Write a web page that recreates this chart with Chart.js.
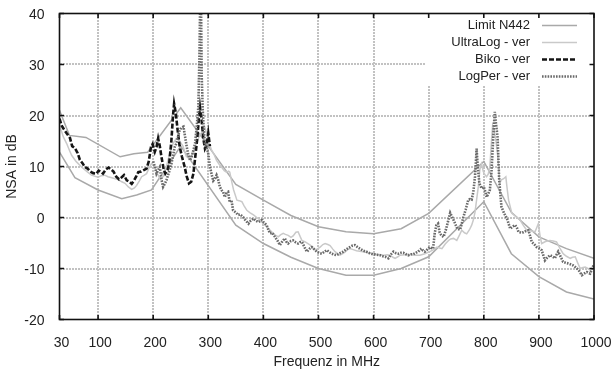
<!DOCTYPE html>
<html>
<head>
<meta charset="utf-8">
<script src="https://cdn.jsdelivr.net/npm/chart.js@4.4.0/dist/chart.umd.min.js"></script>
<style>
  html, body { margin: 0; padding: 0; background: #fff; }
  #wrap { width: 613px; height: 369px; }
</style>
</head>
<body>
<div id="wrap"><canvas id="c-nsa" width="613" height="369"></canvas></div>
<script>
// x ticks (MHz) and y ticks (dB)
const xTicks = [30, 100, 200, 300, 400, 500, 600, 700, 800, 900, 1000];
const yTicks = [-20, -10, 0, 10, 20, 30, 40];

// Limit N442 (upper and lower bound)
const limitHiF = [30, 48, 78, 140, 165, 190, 250, 350, 400, 450, 500, 550, 600, 650, 700, 800, 850, 900, 950, 1000];
const limitHi  = [21.0, 16.1, 15.7, 11.9, 12.5, 12.8, 21.5, 6.5, 3.4, 0.4, -1.8, -2.8, -3.2, -2.2, 0.8, 11.0, 1.0, -3.8, -6.1, -8.0];
const limitLoF = [30, 58, 100, 143, 170, 197, 250, 350, 400, 450, 500, 550, 600, 650, 700, 800, 850, 900, 950, 1000];
const limitLo  = [12.8, 7.8, 5.4, 3.7, 4.4, 5.4, 14.0, -1.5, -5.1, -7.8, -10.0, -11.3, -11.3, -10.0, -7.7, 3.1, -7.1, -11.6, -14.6, -16.0];

// UltraLog - ver
const ultraF = [30, 34, 37, 43, 48, 52, 60, 70, 80, 88, 100, 106, 112, 118, 125, 131, 137, 143, 149, 155, 161, 166, 170, 175, 179, 184, 188, 193, 197,
  203, 208, 213, 218, 224, 230, 236, 242, 248, 254, 260, 266, 272, 278, 284, 290, 294, 297, 301, 306, 310, 315, 320, 324, 329, 333, 337, 339, 343, 346,
  352, 356, 361, 365, 370, 376, 382, 388, 394, 400, 406, 415, 421, 427, 431, 436, 440, 445, 450, 454, 459, 463, 467, 470, 476, 485, 490, 494, 499,
  503, 508, 512, 517, 521, 526, 530, 535, 539, 544, 548, 553, 557, 563, 569, 575, 581, 590, 600, 609, 618, 625, 630, 635, 639, 644, 648, 657, 666,
  675, 684, 693, 702, 709, 715, 720, 724, 730, 736, 740, 745, 751, 756, 760, 765, 769, 774, 778, 781, 784, 787, 790, 793, 796, 799, 802, 805, 808,
  811, 814, 816, 819, 822, 825, 829, 832, 836, 840, 842, 845, 851, 858, 866, 872, 878, 885, 893, 896, 899, 902, 905, 912, 920, 926, 932, 938, 944,
  950, 957, 961, 966, 970, 975, 980, 984, 989, 993, 999];
const ultraV = [18.0, 16.8, 15.8, 14.5, 13.2, 12.2, 11.0, 9.9, 9.0, 8.3, 7.9, 8.2, 8.3, 8.0, 7.8, 7.6, 7.4, 7.0, 6.7, 6.0, 5.5, 5.8, 6.3, 7.2, 8.0, 8.3, 8.6, 9.8, 10.6,
  10.0, 8.5, 7.5, 8.0, 10.0, 12.5, 14.5, 15.5, 15.0, 14.0, 12.0, 11.5, 12.5, 14.5, 16.0, 17.0, 17.6, 16.5, 14.8, 13.2, 12.5, 11.2, 10.4, 9.9, 9.2, 8.9, 9.1, 8.9, 6.8, 5.4,
  3.4, 3.3, 3.1, 2.3, 1.4, 0.9, 0.5, 0.0, -0.5, -1.2, -1.8, -2.8, -3.4, -3.8, -3.4, -3.1, -3.3, -3.5, -3.9, -3.6, -2.9, -2.8, -3.8, -4.5, -4.8, -5.4, -6.0, -6.4, -6.1,
  -5.8, -5.3, -5.1, -5.3, -5.5, -6.2, -6.7, -7.1, -7.4, -7.1, -6.8, -6.3, -6.1, -6.3, -6.5, -6.6, -6.7, -6.9, -7.1, -7.3, -7.4, -7.3, -7.4, -7.8, -8.0, -7.7, -7.4, -7.3, -7.3,
  -7.4, -7.4, -7.1, -6.7, -6.3, -5.8, -6.0, -6.1, -5.2, -4.5, -4.2, -4.1, -4.5, -3.4, -2.5, -3.0, -3.2, -2.4, -1.5, -0.5, 1.0, 3.5, 6.0, 9.5, 10.5, 9.0, 8.4, 8.0, 8.5,
  10.0, 15.0, 18.0, 17.0, 15.0, 12.5, 6.7, 7.4, 7.6, 8.0, 6.0, 3.4, 0.8, 0.2, -0.5, -1.6, -2.5, -2.6, -2.8, -2.0, -1.2, -3.5, -5.1, -4.7, -4.5, -4.6, -4.8, -6.0, -7.1,
  -7.6, -8.0, -7.8, -7.7, -8.8, -10.0, -9.8, -9.7, -10.0, -10.3, -10.0];

// Biko - ver
const bikoF = [30, 34, 38, 43, 49, 53, 58, 63, 67, 72, 76, 81, 86, 91, 97, 101, 105, 109, 114, 119, 124, 128, 133, 138, 143, 147, 152, 157, 161, 165,
  169, 173, 178, 183, 188, 192, 196, 199, 203, 206, 209, 212, 215, 219, 222, 226, 229, 233, 236, 238, 241, 244, 248, 252, 257, 261, 265, 269, 273,
  277, 280, 283, 285, 288, 291, 294, 297, 300, 303];
const bikoV = [19.4, 18.0, 17.3, 16.5, 15.6, 14.0, 13.6, 12.6, 11.3, 10.6, 9.9, 9.6, 9.0, 8.7, 8.6, 9.2, 9.0, 8.6, 9.4, 9.8, 9.4, 9.0, 8.0, 7.5, 7.9, 8.3, 7.3, 7.0, 6.6, 7.2,
  8.0, 8.9, 9.0, 9.3, 9.6, 11.0, 13.8, 14.4, 12.9, 13.8, 15.5, 14.0, 11.9, 9.5, 8.6, 9.3, 10.5, 15.0, 20.0, 22.3, 20.5, 17.5, 14.0, 12.0, 10.0, 8.0, 6.7, 7.0, 8.6,
  12.5, 15.5, 19.5, 21.6, 19.0, 15.5, 13.5, 14.2, 16.5, 14.0];

// LogPer - ver
const logperF = [200, 203, 206, 209, 212, 215, 218, 221, 224, 227, 230, 233, 236, 239, 242, 245, 248, 251, 255, 258, 261, 264, 267, 270, 273, 276, 279,
  282, 284, 285, 287, 288, 290, 292, 294, 297, 300, 303, 306, 309, 312, 315, 318, 321, 324, 327, 330, 333, 336, 339, 342, 345, 350, 354, 358, 363, 368,
  373, 377, 382, 386, 391, 397, 401, 406, 409, 412, 416, 421, 426, 430, 435, 439, 442, 445, 450, 454, 459, 463, 467, 470, 475, 479, 484, 488, 493, 497,
  502, 506, 511, 515, 520, 524, 529, 533, 539, 545, 551, 557, 562, 566, 571, 575, 581, 587, 593, 599, 606, 612, 617, 621, 627, 631, 636, 641, 645, 650,
  654, 659, 663, 668, 672, 677, 681, 684, 687, 690, 693, 698, 702, 705, 708, 711, 714, 717, 720, 723, 727, 731, 735, 739, 743, 748, 752, 757, 760, 763,
  767, 772, 775, 778, 781, 784, 786, 787, 789, 792, 796, 800, 803, 805, 808, 811, 814, 816, 818, 820, 822, 825, 828, 832, 837, 842, 845, 848, 852, 857,
  860, 863, 868, 872, 877, 881, 884, 887, 892, 896, 900, 905, 908, 911, 915, 920, 924, 929, 932, 935, 940, 944, 949, 953, 958, 962, 967, 972, 975, 978,
  982, 987, 990, 993, 996, 999];
const logperV = [11.0, 10.0, 8.6, 9.3, 9.9, 7.5, 6.0, 6.6, 7.3, 8.3, 9.3, 10.5, 12.0, 13.8, 14.5, 15.8, 17.1, 17.6, 17.8, 15.8, 13.8, 12.2, 11.2, 12.0, 13.2, 14.5, 17.8,
  21.7, 32.0, 40.0, 40.0, 28.0, 21.0, 17.0, 14.5, 13.8, 12.5, 10.0, 8.5, 7.2, 7.6, 8.3, 7.4, 6.0, 5.4, 5.0, 4.0, 4.8, 5.0, 3.0, 3.4, 1.4, 1.0, 0.5, 0.6, 0.1, -0.6,
  -1.2, -0.6, -0.2, -0.6, -0.9, -0.5, -1.0, -1.5, -2.4, -3.1, -3.0, -3.8, -4.6, -5.4, -4.6, -4.1, -4.8, -5.1, -4.6, -4.5, -4.9, -5.1, -4.8, -4.8, -5.9, -6.7, -6.1, -5.8, -6.3, -6.7,
  -7.0, -7.1, -6.7, -6.4, -6.8, -7.1, -7.3, -7.4, -7.0, -6.7, -6.2, -5.8, -5.5, -5.4, -5.8, -6.1, -6.5, -6.7, -7.0, -7.2, -7.3, -7.4, -7.6, -7.7, -8.0, -7.3, -6.7, -7.0, -7.1, -6.9,
  -6.9, -7.2, -7.4, -7.2, -7.2, -6.9, -6.7, -6.3, -6.1, -6.5, -6.7, -6.2, -5.8, -6.0, -6.1, -3.0, -1.5, -1.2, -3.0, -3.5, -3.8, -2.5, -0.8, 0.9, 0.0, -1.2, -2.2, -2.4, -1.2, 0.1,
  1.5, 3.5, 3.6, 3.5, 5.0, 8.0, 11.5, 13.5, 10.0, 6.7, 5.7, 6.0, 5.0, 4.0, 4.6, 5.4, 9.0, 13.2, 17.5, 20.7, 18.5, 15.8, 7.3, 2.1, 0.8, -0.2, -1.2, -2.2, -1.8, -1.5,
  -2.0, -2.8, -3.0, -2.9, -2.6, -2.5, -3.6, -4.8, -5.3, -5.8, -6.0, -6.4, -7.4, -8.4, -7.9, -7.4, -7.6, -8.0, -7.3, -6.7, -7.8, -8.7, -8.9, -9.0, -9.2, -9.4, -9.8, -10.3, -10.8, -11.3,
  -11.0, -10.7, -10.9, -11.0, -10.2, -9.4];

const legendLabels = ['Limit N442', 'UltraLog - ver', 'Biko - ver', 'LogPer - ver'];

const FONT = '"Liberation Sans", Arial, Helvetica, sans-serif';
const pts = (fs, vs) => fs.map((f, i) => ({ x: f, y: vs[i] }));

document.addEventListener('DOMContentLoaded', () => {
    const cNsa = document.getElementById('c-nsa');
    if (!cNsa) return;

    const limitStyle = { borderColor: '#a9a9a9', borderWidth: 1.5, pointRadius: 0, tension: 0, order: 4 };
    const datasets = [
        { label: legendLabels[0], data: pts(limitHiF, limitHi), ...limitStyle },
        { label: legendLabels[0], data: pts(limitLoF, limitLo), ...limitStyle },
        { label: legendLabels[1], data: pts(ultraF, ultraV), borderColor: '#c9c9c9', borderWidth: 1.5, pointRadius: 0, tension: 0, order: 3 },
        { label: legendLabels[2], data: pts(bikoF, bikoV), borderColor: '#151515', borderWidth: 2.6, borderDash: [5, 2], pointRadius: 0, tension: 0, order: 2 },
        { label: legendLabels[3], data: pts(logperF, logperV), borderColor: '#6a6a6a', borderWidth: 2.6, borderDash: [1.6, 1.2], pointRadius: 0, tension: 0, order: 1 }
    ];
    // which dataset gives the legend sample for each legend row
    const legendSets = [0, 2, 3, 4];

    // gnuplot-like frame: dotted grid, white key box, black border, inward ticks, key on the right
    const framePlugin = {
        id: 'frame',
        beforeDatasetsDraw(chart) {
            const { ctx, chartArea: a, scales: { x, y } } = chart;
            const t = Math.round(a.top), b = Math.round(a.bottom);
            const l = Math.round(a.left), r = Math.round(a.right);
            ctx.save();
            ctx.strokeStyle = '#c2c2c2';
            ctx.lineWidth = 2;
            ctx.lineCap = 'butt';
            ctx.setLineDash([2, 1]);
            xTicks.slice(1, -1).forEach(v => {
                const px = Math.round(x.getPixelForValue(v));
                ctx.beginPath();
                ctx.moveTo(px, t); ctx.lineTo(px, b);
                ctx.stroke();
            });
            yTicks.slice(1, -1).forEach(v => {
                const py = Math.round(y.getPixelForValue(v));
                ctx.beginPath();
                ctx.moveTo(l, py); ctx.lineTo(r, py);
                ctx.stroke();
            });
            ctx.setLineDash([]);
            ctx.fillStyle = '#fff';
            ctx.fillRect(a.right - 169, a.top, 169, 72);
            ctx.restore();
        },
        afterDatasetsDraw(chart) {
            const { ctx, chartArea: a, scales: { x, y } } = chart;
            ctx.save();
            ctx.strokeStyle = '#111';
            ctx.lineWidth = 1.6;
            ctx.setLineDash([]);
            ctx.strokeRect(a.left, a.top, a.right - a.left, a.bottom - a.top);
            ctx.beginPath();
            const tl = 4.5;
            xTicks.forEach(v => {
                const px = x.getPixelForValue(v);
                ctx.moveTo(px, a.bottom); ctx.lineTo(px, a.bottom - tl);
                ctx.moveTo(px, a.top); ctx.lineTo(px, a.top + tl);
            });
            yTicks.forEach(v => {
                const py = y.getPixelForValue(v);
                ctx.moveTo(a.left, py); ctx.lineTo(a.left + tl, py);
                ctx.moveTo(a.right, py); ctx.lineTo(a.right - tl, py);
            });
            ctx.stroke();

            // key
            ctx.font = '13px ' + FONT;
            ctx.textAlign = 'right';
            ctx.textBaseline = 'middle';
            ctx.fillStyle = '#222';
            legendLabels.forEach((lbl, i) => {
                const ds = chart.data.datasets[legendSets[i]];
                const ry = a.top + 12 + i * 17;
                ctx.fillText(lbl, a.right - 64, ry);
                ctx.beginPath();
                ctx.strokeStyle = ds.borderColor;
                ctx.lineWidth = ds.borderWidth;
                ctx.setLineDash(ds.borderDash || []);
                ctx.moveTo(a.right - 52, ry);
                ctx.lineTo(a.right - 17, ry);
                ctx.stroke();
            });
            ctx.restore();
        }
    };

    const tickFont = { family: FONT, size: 14 };

    new Chart(cNsa, {
        type: 'line',
        data: { datasets },
        options: {
            responsive: false, animation: false, devicePixelRatio: 1,
            layout: { padding: { top: 13.5, right: 19, left: 0, bottom: 0 } },
            scales: {
                x: {
                    type: 'linear', min: 30, max: 1000,
                    afterBuildTicks: s => { s.ticks = xTicks.map(v => ({ value: v })); },
                    afterFit: s => { s.height = 49.5; s.paddingLeft = 0; s.paddingRight = 0; },
                    ticks: { color: '#222', font: tickFont, padding: 7, labelOffset: 2, maxRotation: 0, autoSkip: false, callback: v => String(v) },
                    grid: { display: false },
                    border: { display: false },
                    title: { display: true, text: 'Frequenz in MHz', color: '#222', font: tickFont, padding: { top: 0, bottom: -2 } }
                },
                y: {
                    type: 'linear', min: -20, max: 40,
                    afterBuildTicks: s => { s.ticks = yTicks.map(v => ({ value: v })); },
                    afterFit: s => { s.width = 59.5; s.paddingTop = 0; s.paddingBottom = 0; },
                    ticks: { color: '#222', font: tickFont, padding: 7, labelOffset: 1.5, callback: v => String(v) },
                    grid: { display: false },
                    border: { display: false },
                    title: { display: true, text: 'NSA in dB', color: '#222', font: tickFont, padding: { top: 4, bottom: 0 } }
                }
            },
            plugins: { legend: { display: false }, tooltip: { enabled: false } }
        },
        plugins: [framePlugin]
    });
});
</script>
</body>
</html>
